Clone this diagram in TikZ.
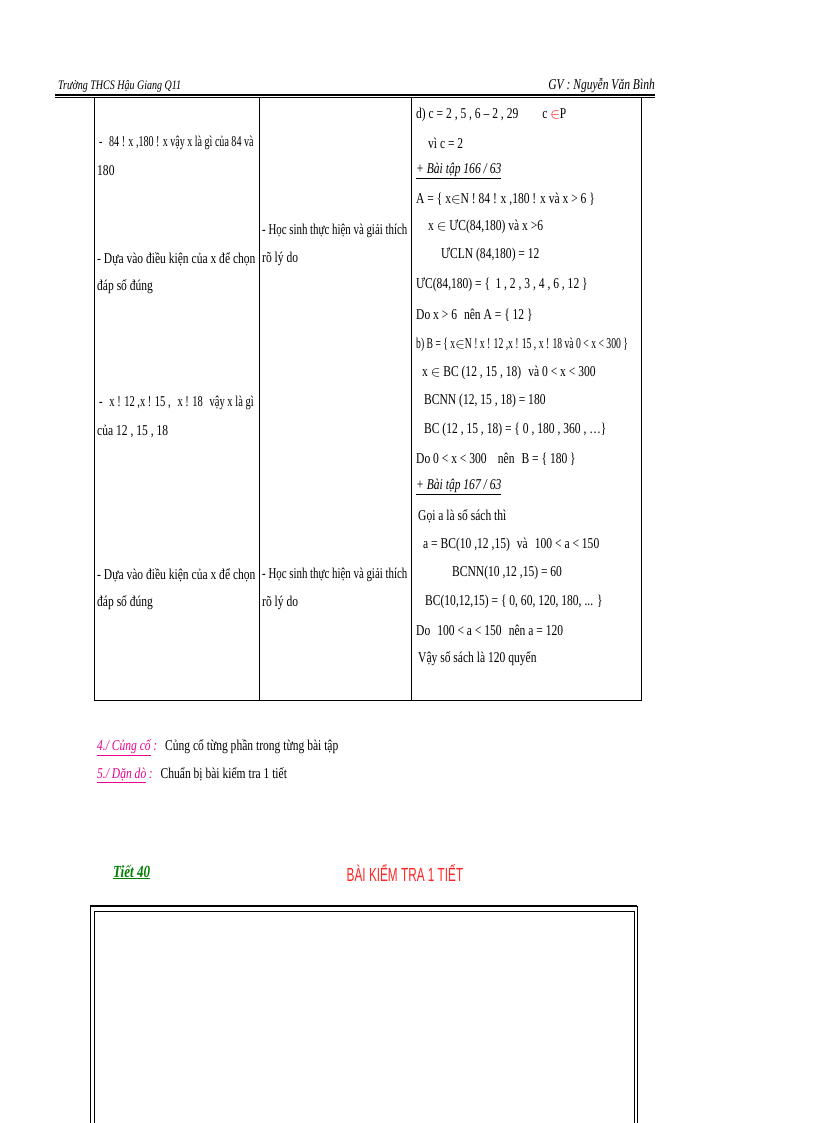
\documentclass[tikz,border=0pt]{standalone}
\usepackage{fontspec}
\setmainfont{Liberation Serif}[FakeStretch=0.77]
\newfontfamily\ttl{Liberation Sans}[FakeStretch=0.62]
\newfontfamily\narA{Liberation Serif}[FakeStretch=0.67]
\newfontfamily\narB{Liberation Serif}[FakeStretch=0.70]
\newfontfamily\narC{Liberation Serif}[FakeStretch=0.725]
\newfontfamily\narD{Liberation Serif}[FakeStretch=0.645]
\begin{document}
\begin{tikzpicture}[x=1pt,y=-1pt,
 t/.style={anchor=west,inner sep=0pt,font=\fontsize{15}{16}\selectfont},
 ti/.style={t,font=\fontsize{15}{16}\selectfont\itshape}]
\useasboundingbox (0,0) rectangle (816,1123);
% header
\node[t,font=\fontsize{13}{14}\selectfont\itshape] (hl) at (58,86) {Trường THCS Hậu Giang Q11};
\node[t,font=\fontsize{15}{16}\selectfont\itshape,anchor=east] (hr) at (655,86) {GV : Nguyễn Văn Bình};
\draw[line width=1.2pt] (55,95) -- (655,95);
\draw[line width=0.4pt] (55,97.5) -- (655,97.5);
% table
\draw[line width=0.6pt] (94,97) rectangle (641,700);
\draw[line width=0.6pt] (259,97) -- (259,700) (411,97) -- (411,700);
% left column
\node[t,font=\narA\fontsize{15}{16}\selectfont] (l1) at (99,143) {-\; 84 ! x ,180 ! x vậy x là gì của 84 và};
\node[t] (l2) at (97,171) {180};
\node[t] (l3) at (97,259) {- Dựa vào điều kiện của x để chọn};
\node[t] (l4) at (97,287) {đáp số đúng};
\node[t,font=\narB\fontsize{15}{16}\selectfont] (l5) at (99,403) {-\; x ! 12 ,x ! 15 ,\; x ! 18\; vậy x là gì};
\node[t] (l6) at (97,431) {của 12 , 15 , 18};
\node[t] (l7) at (97,575) {- Dựa vào điều kiện của x để chọn};
\node[t] (l8) at (97,603) {đáp số đúng};
% middle column
\node[t,font=\narC\fontsize{15}{16}\selectfont] (m1) at (262,231) {- Học sinh thực hiện và giải thích};
\node[t] (m2) at (262,259) {rõ lý do};
\node[t,font=\narC\fontsize{15}{16}\selectfont] (m3) at (262,575) {- Học sinh thực hiện và giải thích};
\node[t] (m4) at (262,603) {rõ lý do};
% right column
\node[t] (r1) at (416,115) {d) c = 2 , 5 , 6 -- 2 , 29\hspace{24pt}c \textcolor{red}{$\in$}P};
\node[t] (r2) at (428,143) {vì c = 2};
\node[ti] (r3) at (416,171) {\underline{+ Bài tập 166 / 63}};
\node[t] (r4) at (416,199) {A = \{ x$\in$N ! 84 ! x ,180 ! x và x > 6 \}};
\node[t] (r5) at (428,227) {x $\in$ ƯC(84,180) và x >6};
\node[t] (r6) at (441,255) {ƯCLN (84,180) = 12};
\node[t] (r7) at (416,285) {ƯC(84,180) = \{\, 1 , 2 , 3 , 4 , 6 , 12 \}};
\node[t] (r8) at (416,315) {Do x > 6\; nên A = \{ 12 \}};
\node[t,font=\narD\fontsize{15}{16}\selectfont] (r9) at (416,345) {b) B = \{ x$\in$N ! x ! 12 ,x ! 15 , x ! 18 và 0 < x < 300 \}};
\node[t] (r10) at (422,373) {x $\in$ BC (12 , 15 , 18)\; và 0 < x < 300};
\node[t] (r11) at (424,401) {BCNN (12, 15 , 18) = 180};
\node[t] (r12) at (424,430) {BC (12 , 15 , 18) = \{ 0 , 180 , 360 , \dots\}};
\node[t] (r13) at (416,459) {Do 0 < x < 300\;\; nên\; B = \{ 180 \}};
\node[ti] (r14) at (416,487) {\underline{+ Bài tập 167 / 63}};
\node[t] (r15) at (418,516) {Gọi a là số sách thì};
\node[t] (r16) at (423,545) {a = BC(10 ,12 ,15)\; và\; 100 < a < 150};
\node[t] (r17) at (452,573) {BCNN(10 ,12 ,15) = 60};
\node[t] (r18) at (425,602) {BC(10,12,15) = \{ 0, 60, 120, 180, ... \}};
\node[t] (r19) at (416,630) {Do\; 100 < a < 150\; nên a = 120};
\node[t] (r20) at (418,659) {Vậy số sách là 120 quyển};
% bottom lines
\node[t] (c1) at (97,748) {\textcolor{magenta}{\itshape\underline{4./ Củng cố}\,:}\; Củng cố từng phần trong từng bài tập};
\node[t] (c2) at (97,775) {\textcolor{magenta}{\itshape\underline{5./ Dặn dò}\,:}\; Chuẩn bị bài kiểm tra 1 tiết};
\node[t,font=\fontsize{17}{18}\selectfont\bfseries\itshape,text=green!50!black] (tiet) at (113,872) {\underline{Tiết 40}};
\node[inner sep=0pt,font=\ttl\fontsize{19}{20}\selectfont,text=red!85] (bkt) at (405,873) {BÀI KIỂM TRA 1 TIẾT};
% box
\draw[line width=2.2pt] (90,906) -- (637,906);
\draw[line width=1pt] (90,906) -- (90,1123) (637,906) -- (637,1123);
\draw[line width=0.6pt] (94,911) -- (634,911) (94,911) -- (94,1123) (634,911) -- (634,1123);
\end{tikzpicture}
\end{document}
